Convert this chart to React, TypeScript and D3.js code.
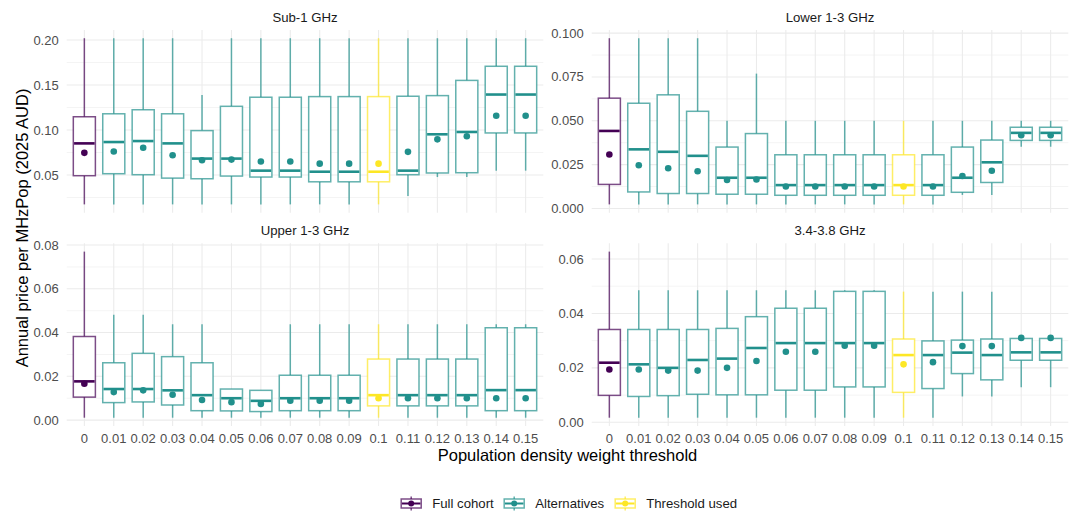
import React from "react";
import * as d3 from "d3";

// ---------- Data ----------
const thresholds = ["0", "0.01", "0.02", "0.03", "0.04", "0.05", "0.06", "0.07", "0.08", "0.09", "0.1", "0.11", "0.12", "0.13", "0.14", "0.15"];
const groupNames = ["Full cohort", "Alternatives", "Threshold used"];
const groupColors = ["#440154", "#21908C", "#FDE725"];
const groupIndex = thresholds.map((t) => (t === "0" ? 0 : t === "0.1" ? 2 : 1));

// Sub-1 GHz
const sub1Min = [0.0173, 0.0173, 0.0173, 0.0173, 0.0173, 0.0173, 0.0173, 0.0173, 0.0173, 0.0173, 0.0173, 0.0267, 0.0477, 0.0477, 0.0548, 0.0548];
const sub1Q1 = [0.0492, 0.0514, 0.0503, 0.0465, 0.0458, 0.0488, 0.0477, 0.0477, 0.0424, 0.0424, 0.0424, 0.0503, 0.0522, 0.0525, 0.0967, 0.0967];
const sub1Med = [0.0851, 0.0866, 0.0877, 0.0851, 0.0682, 0.0682, 0.0548, 0.0548, 0.0536, 0.0536, 0.0536, 0.0548, 0.0952, 0.0978, 0.1394, 0.1394];
const sub1Q3 = [0.1147, 0.118, 0.1225, 0.118, 0.0993, 0.1263, 0.1364, 0.1364, 0.1371, 0.1371, 0.1371, 0.1375, 0.1382, 0.1551, 0.1708, 0.1708];
const sub1Max = [0.202, 0.202, 0.202, 0.202, 0.139, 0.202, 0.202, 0.202, 0.202, 0.202, 0.202, 0.202, 0.202, 0.202, 0.202, 0.202];
const sub1Mean = [0.0746, 0.0761, 0.0802, 0.072, 0.0664, 0.0671, 0.0649, 0.0649, 0.0626, 0.0626, 0.0626, 0.0757, 0.0896, 0.093, 0.1158, 0.1158];
const sub1Ticks = [0.05, 0.1, 0.15, 0.2];
const sub1Labels = ["0.05", "0.10", "0.15", "0.20"];

// Lower 1-3 GHz
const low13Min = [0.0023, 0.0023, 0.0023, 0.0023, 0.0023, 0.0023, 0.0023, 0.0023, 0.0023, 0.0023, 0.0023, 0.0023, 0.0077, 0.0077, 0.0352, 0.0352];
const low13Q1 = [0.0137, 0.0094, 0.0085, 0.0085, 0.0081, 0.0081, 0.0075, 0.0075, 0.0075, 0.0075, 0.0075, 0.0075, 0.0092, 0.0148, 0.0388, 0.0388];
const low13Med = [0.0442, 0.0337, 0.0323, 0.03, 0.0175, 0.0175, 0.0133, 0.0133, 0.0133, 0.0133, 0.0133, 0.0133, 0.0175, 0.0263, 0.0431, 0.0431];
const low13Q3 = [0.0629, 0.06, 0.0648, 0.0554, 0.035, 0.0427, 0.0306, 0.0306, 0.0306, 0.0306, 0.0306, 0.0306, 0.035, 0.039, 0.0463, 0.0463];
const low13Max = [0.0971, 0.0971, 0.0971, 0.0971, 0.05, 0.0769, 0.05, 0.05, 0.05, 0.05, 0.05, 0.05, 0.05, 0.05, 0.05, 0.05];
const low13Mean = [0.0308, 0.0246, 0.0229, 0.0212, 0.0162, 0.0165, 0.0125, 0.0125, 0.0125, 0.0125, 0.0125, 0.0125, 0.0185, 0.0215, 0.0417, 0.0417];
const low13Ticks = [0, 0.025, 0.05, 0.075, 0.1];
const low13Labels = ["0.000", "0.025", "0.050", "0.075", "0.100"];

// Upper 1-3 GHz
const up13Min = [0.0011, 0.0011, 0.0011, 0.0011, 0.0011, 0.0011, 0.0011, 0.0011, 0.0011, 0.0011, 0.0011, 0.0011, 0.0011, 0.0011, 0.0011, 0.0011];
const up13Q1 = [0.0105, 0.008, 0.0083, 0.0069, 0.0043, 0.0042, 0.0039, 0.0043, 0.0043, 0.0043, 0.0065, 0.0065, 0.0065, 0.0065, 0.0043, 0.0043];
const up13Med = [0.0177, 0.0142, 0.0142, 0.0136, 0.0114, 0.01, 0.0088, 0.01, 0.01, 0.01, 0.0114, 0.0114, 0.0114, 0.0114, 0.0137, 0.0137];
const up13Q3 = [0.0382, 0.0262, 0.0305, 0.029, 0.0262, 0.0142, 0.0136, 0.0205, 0.0205, 0.0205, 0.0279, 0.0279, 0.0279, 0.0279, 0.0422, 0.0422];
const up13Max = [0.077, 0.0482, 0.0482, 0.0438, 0.0438, 0.0142, 0.0136, 0.0438, 0.0438, 0.0438, 0.0438, 0.0438, 0.0438, 0.0438, 0.0438, 0.0438];
const up13Mean = [0.0166, 0.0128, 0.0136, 0.0116, 0.0092, 0.0082, 0.0074, 0.0089, 0.0089, 0.0089, 0.01, 0.01, 0.01, 0.01, 0.01, 0.01];
const up13Ticks = [0, 0.02, 0.04, 0.06, 0.08];
const up13Labels = ["0.00", "0.02", "0.04", "0.06", "0.08"];

// 3.4-3.8 GHz
const b34Min = [0.0017, 0.0017, 0.0017, 0.0017, 0.0017, 0.0017, 0.0017, 0.0017, 0.0017, 0.0017, 0.0017, 0.0017, 0.0095, 0.0095, 0.0129, 0.0129];
const b34Q1 = [0.0099, 0.0095, 0.0098, 0.0103, 0.0101, 0.0101, 0.0118, 0.0118, 0.013, 0.013, 0.011, 0.0124, 0.0179, 0.0156, 0.0228, 0.0228];
const b34Med = [0.0219, 0.0213, 0.02, 0.0229, 0.0234, 0.0273, 0.0291, 0.0291, 0.0291, 0.0291, 0.0247, 0.0247, 0.0256, 0.0247, 0.0257, 0.0257];
const b34Q3 = [0.0341, 0.0341, 0.0341, 0.0341, 0.0345, 0.0388, 0.0419, 0.0419, 0.0481, 0.0481, 0.0306, 0.0299, 0.0302, 0.0306, 0.0308, 0.0308];
const b34Max = [0.0627, 0.0485, 0.0485, 0.0485, 0.0485, 0.0485, 0.0485, 0.0485, 0.0485, 0.0485, 0.048, 0.048, 0.048, 0.048, 0.0308, 0.0308];
const b34Mean = [0.0194, 0.0194, 0.019, 0.019, 0.02, 0.0225, 0.0259, 0.0259, 0.0281, 0.0281, 0.0213, 0.0221, 0.028, 0.028, 0.031, 0.031];
const b34Ticks = [0, 0.02, 0.04, 0.06];
const b34Labels = ["0.00", "0.02", "0.04", "0.06"];

const panelTitles = ["Sub-1 GHz", "Lower 1-3 GHz", "Upper 1-3 GHz", "3.4-3.8 GHz"];
const yTitle = "Annual price per MHzPop (2025 AUD)";
const xTitle = "Population density weight threshold";

// ---------- Layout ----------
const W = 1070;
const H = 514;
const FONT = "'Liberation Sans', Arial, Helvetica, sans-serif";
const colX = [[66.7, 543.3], [591.7, 1068.3]];
const rowY = [[29.9, 212.7], [243.3, 426]];
const GRID = "#EBEBEB";
const TICK_FS = 13;
const STRIP_FS = 13.2;
const TITLE_FS = 16.5;
const LEGEND_FS = 13.2;

const panelData = [
  { title: panelTitles[0], min: sub1Min, q1: sub1Q1, med: sub1Med, q3: sub1Q3, max: sub1Max, mean: sub1Mean, ticks: sub1Ticks, labels: sub1Labels, col: 0, row: 0 },
  { title: panelTitles[1], min: low13Min, q1: low13Q1, med: low13Med, q3: low13Q3, max: low13Max, mean: low13Mean, ticks: low13Ticks, labels: low13Labels, col: 1, row: 0 },
  { title: panelTitles[2], min: up13Min, q1: up13Q1, med: up13Med, q3: up13Q3, max: up13Max, mean: up13Mean, ticks: up13Ticks, labels: up13Labels, col: 0, row: 1 },
  { title: panelTitles[3], min: b34Min, q1: b34Q1, med: b34Med, q3: b34Q3, max: b34Max, mean: b34Mean, ticks: b34Ticks, labels: b34Labels, col: 1, row: 1 },
];

function Panel({ p }: { p: any }) {
  const [x0, x1] = colX[p.col];
  const [y0, y1] = rowY[p.row];
  const lo = d3.min(p.min as number[])!;
  const hi = d3.max(p.max as number[])!;
  const pad = (hi - lo) * 0.05;
  const y = d3.scaleLinear().domain([lo - pad, hi + pad]).range([y1, y0]);
  // ggplot discrete expansion: 0.6 units each side
  const x = d3
    .scalePoint<string>()
    .domain(thresholds)
    .range([x0, x1])
    .padding(0.6);
  const step = x.step();
  const bw = step * 0.75;
  const tStep = p.ticks[1] - p.ticks[0];
  const minor: number[] = [];
  for (let k = -1; k < p.ticks.length; k++) {
    const v = p.ticks[0] + tStep * (k + 0.5);
    const [a, b] = y.domain();
    if (v >= a && v <= b) minor.push(v);
  }
  const isBottom = p.row === 1;
  return (
    <g>
      {minor.map((v, i) => (
        <line key={"mn" + i} x1={x0} x2={x1} y1={y(v)} y2={y(v)} stroke={GRID} strokeWidth={0.55} />
      ))}
      {p.ticks.map((v: number, i: number) => (
        <line key={"mj" + i} x1={x0} x2={x1} y1={y(v)} y2={y(v)} stroke={GRID} strokeWidth={1.07} />
      ))}
      {thresholds.map((t, i) => (
        <line key={"vx" + i} x1={x(t)!} x2={x(t)!} y1={y0} y2={y1} stroke={GRID} strokeWidth={1.07} />
      ))}
      {p.ticks.map((v: number, i: number) => (
        <text key={"yl" + i} x={x0 - 8} y={y(v)} dy="0.35em" textAnchor="end" fontSize={TICK_FS} fill="#4D4D4D" fontFamily={FONT}>
          {p.labels[i]}
        </text>
      ))}
      {isBottom &&
        thresholds.map((t, i) => (
          <text key={"xl" + i} x={x(t)!} y={y1 + 12} dy="0.35em" textAnchor="middle" fontSize={TICK_FS} fill="#4D4D4D" fontFamily={FONT}>
            {t}
          </text>
        ))}
      <text x={(x0 + x1) / 2} y={y0 - 13} dy="0.35em" textAnchor="middle" fontSize={STRIP_FS} fill="#1A1A1A" fontFamily={FONT}>
        {p.title}
      </text>
      {thresholds.map((t, i) => {
        const c = groupColors[groupIndex[i]];
        const xc = x(t)!;
        return (
          <g key={"bx" + i}>
            <g stroke={c} strokeOpacity={0.7} strokeWidth={1.5} fill="none">
              <line x1={xc} x2={xc} y1={y(p.q3[i])} y2={y(p.max[i])} />
              <line x1={xc} x2={xc} y1={y(p.q1[i])} y2={y(p.min[i])} />
              <rect x={xc - bw / 2} width={bw} y={y(p.q3[i])} height={Math.max(0, y(p.q1[i]) - y(p.q3[i]))} fill="white" />
            </g>
            <line x1={xc - bw / 2 + 0.75} x2={xc + bw / 2 - 0.75} y1={y(p.med[i])} y2={y(p.med[i])} stroke={c} strokeWidth={2.6} />
            <circle cx={xc} cy={y(p.mean[i])} r={3.3} fill={c} />
          </g>
        );
      })}
    </g>
  );
}

const legendX = [401.2, 504.2, 615.2];
const legendY = 503.5;

export default function App() {
  return (
    <div style={{ position: "absolute", left: 0, top: 0 }}>
      <svg width={W} height={H} style={{ display: "block", background: "white" }}>
        <rect width={W} height={H} fill="white" />
        {panelData.map((p, i) => (
          <Panel key={i} p={p} />
        ))}
        <text
          transform={`translate(22,${(rowY[0][0] + rowY[1][1]) / 2}) rotate(-90)`}
          textAnchor="middle"
          dy="0.35em"
          fontSize={TITLE_FS}
          fill="#000"
          fontFamily={FONT}
        >
          {yTitle}
        </text>
        <text x={(colX[0][0] + colX[1][1]) / 2} y={455} dy="0.35em" textAnchor="middle" fontSize={TITLE_FS} fill="#000" fontFamily={FONT}>
          {xTitle}
        </text>
        {groupNames.map((g, i) => {
          const lx = legendX[i];
          const c = groupColors[i];
          const kw = 20;
          return (
            <g key={"lg" + i}>
              <g stroke={c} strokeOpacity={0.7} strokeWidth={1.5} fill="none">
                <line x1={lx + kw / 2} x2={lx + kw / 2} y1={legendY - 7} y2={legendY - 4.5} />
                <line x1={lx + kw / 2} x2={lx + kw / 2} y1={legendY + 4.5} y2={legendY + 7} />
                <rect x={lx} y={legendY - 4.5} width={kw} height={9} fill="white" />
              </g>
              <line x1={lx + 0.75} x2={lx + kw - 0.75} y1={legendY} y2={legendY} stroke={c} strokeWidth={2} />
              <circle cx={lx + kw / 2} cy={legendY} r={3} fill={c} />
              <text x={lx + kw + 11} y={legendY} dy="0.35em" fontSize={LEGEND_FS} fill="#1A1A1A" fontFamily={FONT}>
                {g}
              </text>
            </g>
          );
        })}
      </svg>
    </div>
  );
}
